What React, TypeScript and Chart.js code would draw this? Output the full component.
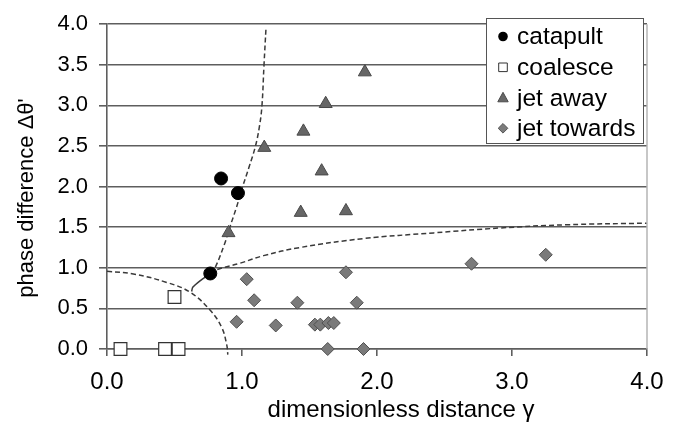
import React, { useEffect, useRef } from 'react';
import { Chart, registerables } from 'chart.js';
Chart.register(...registerables);

// ---- data ----
const catapultX = [0.845, 0.97, 0.765];
const catapultY = [2.1, 1.92, 0.93];
const coalesceX = [0.1, 0.43, 0.53, 0.5];
const coalesceY = [0, 0, 0, 0.64];
const jetAwayX = [1.91, 1.62, 1.455, 1.165, 1.59, 1.435, 1.77, 0.9];
const jetAwayY = [3.41, 3.02, 2.68, 2.48, 2.19, 1.68, 1.7, 1.43];
const jetTowardsX = [1.035, 1.09, 1.41, 1.77, 1.85, 0.96, 1.25, 1.54, 1.58, 1.64, 1.68, 1.635, 1.9, 2.7, 3.25];
const jetTowardsY = [0.86, 0.6, 0.57, 0.945, 0.57, 0.335, 0.29, 0.3, 0.3, 0.32, 0.32, 0, 0, 1.05, 1.16];

// boundary curves
const arcX = [0, 0.195, 0.442, 0.615, 0.763, 0.85, 0.887, 0.895];
const arcY = [0.957, 0.925, 0.82, 0.7, 0.48, 0.265, 0.05, -0.07];
const steepX = [0.765, 0.8, 0.87, 0.91, 0.96, 1.005, 1.054, 1.1, 1.13, 1.148, 1.163, 1.178];
const steepY = [0.93, 1.0, 1.29, 1.5, 1.75, 2.0, 2.25, 2.5, 2.75, 3.0, 3.5, 3.96];
const flatX = [0.765, 0.81, 0.985, 1.16, 1.43, 1.9, 2.42, 2.91, 3.4, 4.0];
const flatY = [0.93, 0.976, 1.056, 1.15, 1.25, 1.36, 1.43, 1.49, 1.53, 1.55];
const solidX = [0.627, 0.635, 0.689, 0.765];
const solidY = [0.708, 0.76, 0.84, 0.93];

const xTicks = [0, 1, 2, 3, 4];
const yTicks = [0, 0.5, 1, 1.5, 2, 2.5, 3, 3.5, 4];
const legendLabels = ['catapult', 'coalesce', 'jet away', 'jet towards'];
const xTitle = 'dimensionless distance γ';
const yTitle = "phase difference Δθ'";

const FONT = "'Liberation Sans', Arial, Helvetica, sans-serif";
const GRID = '#5e5e5e';

const pts = (xs: number[], ys: number[]) => xs.map((x, i) => ({ x, y: ys[i] }));

function drawMarker(ctx: CanvasRenderingContext2D, style: string, x: number, y: number) {
  ctx.beginPath();
  if (style === 'circle') {
    ctx.fillStyle = '#000';
    ctx.arc(x, y, 4.8, 0, Math.PI * 2);
    ctx.fill();
  } else if (style === 'rect') {
    ctx.fillStyle = '#fff';
    ctx.strokeStyle = '#333';
    ctx.lineWidth = 1;
    ctx.rect(x - 4.3, y - 4.3, 8.6, 8.6);
    ctx.fill();
    ctx.stroke();
  } else if (style === 'triangle') {
    ctx.fillStyle = '#686868';
    ctx.strokeStyle = '#4a4a4a';
    ctx.lineWidth = 1;
    ctx.moveTo(x, y - 6);
    ctx.lineTo(x + 5.2, y + 3.5);
    ctx.lineTo(x - 5.2, y + 3.5);
    ctx.closePath();
    ctx.fill();
    ctx.stroke();
  } else {
    ctx.fillStyle = '#7c7c7c';
    ctx.strokeStyle = '#555';
    ctx.lineWidth = 1;
    ctx.moveTo(x, y - 4.8);
    ctx.lineTo(x + 4.8, y);
    ctx.lineTo(x, y + 4.8);
    ctx.lineTo(x - 4.8, y);
    ctx.closePath();
    ctx.fill();
    ctx.stroke();
  }
}

const overlayPlugin = {
  id: 'overlay',
  afterDraw(chart: any) {
    const { ctx, chartArea } = chart;
    ctx.save();
    // right frame line
    ctx.strokeStyle = '#b4b4b4';
    ctx.lineWidth = 1.5;
    ctx.beginPath();
    ctx.moveTo(chartArea.right, chartArea.top);
    ctx.lineTo(chartArea.right, chartArea.bottom);
    ctx.stroke();

    // axis titles
    ctx.fillStyle = '#000';
    ctx.textAlign = 'center';
    ctx.textBaseline = 'middle';
    ctx.font = `24px ${FONT}`;
    ctx.fillText(xTitle, 401, 410);
    ctx.save();
    ctx.translate(27, 198);
    ctx.rotate(-Math.PI / 2);
    ctx.font = `22px ${FONT}`;
    ctx.fillText(yTitle, 0, 0);
    ctx.restore();

    // legend box
    const bx = 486, by = 18, bw = 157, bh = 125;
    ctx.fillStyle = '#fff';
    ctx.fillRect(bx, by, bw, bh);
    ctx.strokeStyle = '#555';
    ctx.lineWidth = 1;
    ctx.strokeRect(bx + 0.5, by + 0.5, bw, bh);
    const styles = ['circle', 'rect', 'triangle', 'rectRot'];
    const rows = [36.5, 67.3, 98.3, 128.3];
    legendLabels.forEach((label, i) => {
      drawMarker(ctx, styles[i], 503, rows[i]);
      ctx.fillStyle = '#000';
      ctx.textAlign = 'left';
      ctx.textBaseline = 'middle';
      ctx.font = `24.5px ${FONT}`;
      ctx.fillText(label, 517, rows[i] + 1);
    });
    ctx.restore();
  },
};

export default function App() {
  const ref = useRef<HTMLCanvasElement>(null);
  useEffect(() => {
    if (!ref.current) return;
    const curve = (xs: number[], ys: number[], dashed: boolean) => ({
      type: 'scatter' as const,
      data: pts(xs, ys),
      showLine: true,
      pointRadius: 0,
      pointHoverRadius: 0,
      borderColor: '#3a3a3a',
      borderWidth: 1.5,
      borderDash: dashed ? [5, 3] : [],
      tension: dashed ? 0.4 : 0.2,
      fill: false,
      clip: false as any,
    });
    const chart = new Chart(ref.current, {
      type: 'scatter',
      data: {
        datasets: [
          {
            label: legendLabels[0],
            data: pts(catapultX, catapultY),
            pointStyle: 'circle',
            pointRadius: 6.5,
            pointHoverRadius: 6.5,
            backgroundColor: '#000',
            borderColor: '#000',
            borderWidth: 1,
          },
          {
            label: legendLabels[1],
            data: pts(coalesceX, coalesceY),
            pointStyle: 'rect',
            pointRadius: 9,
            pointHoverRadius: 9,
            backgroundColor: '#fff',
            borderColor: '#333',
            borderWidth: 1.2,
            clip: false as any,
          },
          {
            label: legendLabels[2],
            data: pts(jetAwayX, jetAwayY),
            pointStyle: 'triangle',
            pointRadius: 7.5,
            pointHoverRadius: 7.5,
            backgroundColor: '#666',
            borderColor: '#484848',
            borderWidth: 1,
          },
          {
            label: legendLabels[3],
            data: pts(jetTowardsX, jetTowardsY),
            pointStyle: 'rectRot',
            pointRadius: 6.5,
            pointHoverRadius: 6.5,
            backgroundColor: '#7a7a7a',
            borderColor: '#505050',
            borderWidth: 1,
            clip: false as any,
          },
          curve(arcX, arcY, true),
          curve(steepX, steepY, true),
          curve(flatX, flatY, true),
          curve(solidX, solidY, false),
        ],
      },
      options: {
        animation: false,
        responsive: false,
        devicePixelRatio: 1,
        layout: { padding: { top: 12, right: 37, left: 0, bottom: 0 } },
        plugins: { legend: { display: false }, tooltip: { enabled: false } },
        scales: {
          x: {
            type: 'linear',
            min: 0,
            max: 4,
            afterBuildTicks: (s: any) => { s.ticks = xTicks.map((v) => ({ value: v })); },
            afterFit: (s: any) => { s.height = 80; },
            ticks: {
              callback: (v: any) => Number(v).toFixed(1),
              font: { family: FONT, size: 24 },
              color: '#000',
              padding: 12,
              maxRotation: 0,
            },
            grid: { drawOnChartArea: false, drawTicks: true, tickLength: 7, color: GRID, lineWidth: 1.6 },
            border: { color: GRID, width: 1.6 },
          },
          y: {
            type: 'linear',
            min: 0,
            max: 4,
            afterBuildTicks: (s: any) => { s.ticks = yTicks.map((v) => ({ value: v })); },
            afterFit: (s: any) => { s.width = 107; },
            ticks: {
              callback: (v: any) => Number(v).toFixed(1),
              font: { family: FONT, size: 22 },
              color: '#000',
              padding: 11,
            },
            grid: { color: GRID, lineWidth: 1.6, tickLength: 8 },
            border: { color: GRID, width: 1.6 },
          },
        },
      },
      plugins: [overlayPlugin],
    });
    return () => chart.destroy();
  }, []);
  return (
    <div style={{ position: 'fixed', left: 0, top: 0, width: 684, height: 429, background: '#fff' }}>
      <canvas ref={ref} width={684} height={429} style={{ display: 'block' }} />
    </div>
  );
}
